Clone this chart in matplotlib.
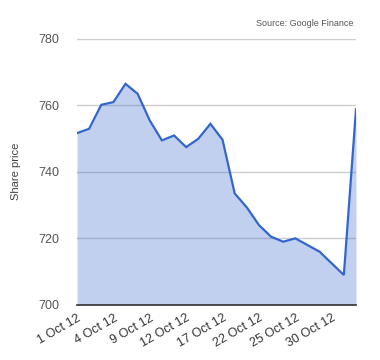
import matplotlib
matplotlib.use("Agg")
import matplotlib.pyplot as plt
import numpy as np

plt.rcParams['font.family'] = ['Liberation Sans', 'DejaVu Sans']

# daily share price, 1 Oct 12 onwards (trading days)
prices = [751.6, 752.9, 760.1, 760.9, 766.4, 763.4, 755.4, 749.4, 750.9, 747.4,
          749.9, 754.4, 749.6, 733.5, 729.3, 724.0, 720.5, 719.0, 720.0, 718.0,
          716.0, 712.5, 709.0, 758.7]
tick_idx = [0, 3, 6, 9, 12, 15, 18, 21]
tick_labels = ['1 Oct 12', '4 Oct 12', '9 Oct 12', '12 Oct 12',
               '17 Oct 12', '22 Oct 12', '25 Oct 12', '30 Oct 12']
y_ticks = [700, 720, 740, 760, 780]

line_color = '#3366cc'

fig = plt.figure(figsize=(3.8, 3.6), dpi=100)
ax = fig.add_axes([0.2026, 0.1528, 0.7342, 0.7402])

x = np.arange(len(prices))
ax.fill_between(x, prices, 700, color=line_color, alpha=0.3, linewidth=0, zorder=2)
ax.plot(x, prices, color=line_color, linewidth=1.6, zorder=3, solid_joinstyle='miter')

ax.set_xlim(0, len(prices) - 1)
ax.set_ylim(700, 780)
ax.set_yticks(y_ticks)
ax.yaxis.grid(True, color='#cccccc', linewidth=1, zorder=1)
ax.set_axisbelow(True)

ax.set_xticks(tick_idx)
ax.set_xticklabels(tick_labels, rotation=30, ha='right', rotation_mode='anchor',
                   fontsize=9, color='#333333')
for lab in ax.get_yticklabels():
    lab.set_fontsize(9)
    lab.set_color('#555555')
ax.tick_params(axis='both', length=0)
ax.tick_params(axis='x', pad=5)
ax.tick_params(axis='y', pad=13)

for side in ['top', 'right', 'left']:
    ax.spines[side].set_visible(False)
ax.spines['bottom'].set_color('#333333')
ax.spines['bottom'].set_linewidth(1.2)
ax.spines['bottom'].set_zorder(4)

ax.set_ylabel('Share price', fontsize=8, color='#444444', labelpad=12)

fig.text(0.929, 0.922, 'Source: Google Finance', fontsize=6.5, color='#555555',
         ha='right', va='bottom')

fig.savefig('out.png', dpi=100)
